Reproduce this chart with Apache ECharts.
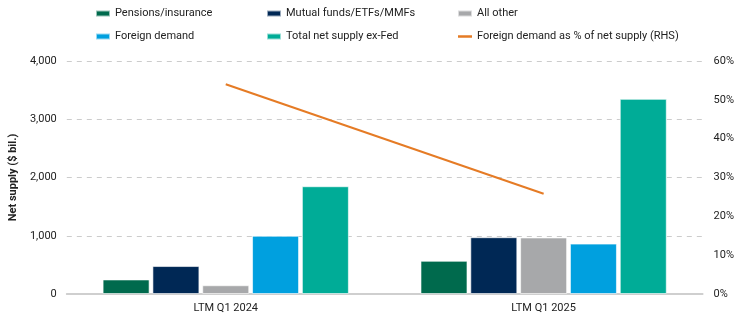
<!DOCTYPE html>
<html><head><meta charset="utf-8">
<script src="https://cdn.jsdelivr.net/npm/echarts@6/dist/echarts.min.js"></script>
<style>html,body{margin:0;padding:0;background:#fff}#c{width:737px;height:325px}</style>
</head><body><div id="c"></div>
<script>
const categories = ['LTM Q1 2024', 'LTM Q1 2025'];
const pensions = [250, 570];
const mutualFunds = [480, 975];
const allOther = [150, 970];
const foreignDemand = [1000, 865];
const totalNetSupply = [1850, 3350];
const foreignPct = [54, 25.8];
const leftTicks = [0, 1000, 2000, 3000, 4000];
const rightTicks = [0, 10, 20, 30, 40, 50, 60];

const font = 'Roboto';
const chart = echarts.init(document.getElementById('c'));
const barBase = {type: 'bar', barWidth: 47, barGap: '6%', itemStyle: {borderColor: 'rgba(255,255,255,0.6)', borderWidth: 1}};
const legendBase = {orient: 'vertical', top: 3, itemWidth: 14, itemHeight: 6, itemGap: 12,
  textStyle: {fontFamily: font, fontSize: 11, color: '#222'}};
chart.setOption({
  animation: false,
  textStyle: {fontFamily: font},
  legend: [
    Object.assign({left: 90, data: [{name: 'Pensions/insurance', icon: 'rect'}, {name: 'Foreign demand', icon: 'rect'}]}, legendBase),
    Object.assign({left: 261, data: [{name: 'Mutual funds/ETFs/MMFs', icon: 'rect'}, {name: 'Total net supply ex-Fed', icon: 'rect'}]}, legendBase),
    Object.assign({left: 452, data: [{name: 'All other', icon: 'rect'}, {name: 'Foreign demand as % of net supply (RHS)', icon: 'path://M0,0L14,0L14,2.5L0,2.5Z'}]}, legendBase)
  ],
  grid: {left: 62, right: 33.5, top: 61, bottom: 31},
  xAxis: {type: 'category', data: categories,
    axisLine: {lineStyle: {color: '#cfcfcf', width: 2}}, axisTick: {show: false},
    axisLabel: {color: '#222', fontSize: 11, margin: 9}},
  yAxis: [
    {type: 'value', min: leftTicks[0], max: leftTicks[leftTicks.length - 1], interval: 1000,
      name: 'Net supply ($ bil.)', nameLocation: 'middle', nameGap: 45,
      nameTextStyle: {fontWeight: 'bold', fontSize: 11, color: '#222'},
      axisLabel: {color: '#222', fontSize: 11, margin: 10, formatter: v => v.toLocaleString('en-US')},
      axisLine: {show: false}, axisTick: {show: false},
      splitLine: {lineStyle: {type: [5, 5], color: '#cccccc', width: 1}}},
    {type: 'value', min: rightTicks[0], max: rightTicks[rightTicks.length - 1], interval: 10,
      axisLabel: {color: '#222', fontSize: 11, margin: 11, formatter: '{value}%'},
      axisLine: {show: false}, axisTick: {show: false}, splitLine: {show: false}}
  ],
  series: [
    Object.assign({name: 'Pensions/insurance', data: pensions, color: '#006a4d'}, barBase),
    Object.assign({name: 'Mutual funds/ETFs/MMFs', data: mutualFunds, color: '#002855'}, barBase),
    Object.assign({name: 'All other', data: allOther, color: '#a7a8aa'}, barBase),
    Object.assign({name: 'Foreign demand', data: foreignDemand, color: '#00a0df'}, barBase),
    Object.assign({name: 'Total net supply ex-Fed', data: totalNetSupply, color: '#00ac97'}, barBase),
    {name: 'Foreign demand as % of net supply (RHS)', type: 'line', yAxisIndex: 1, data: foreignPct,
      color: '#e57b25', symbol: 'none', lineStyle: {width: 2, color: '#e57b25'}}
  ]
});
</script></body></html>
